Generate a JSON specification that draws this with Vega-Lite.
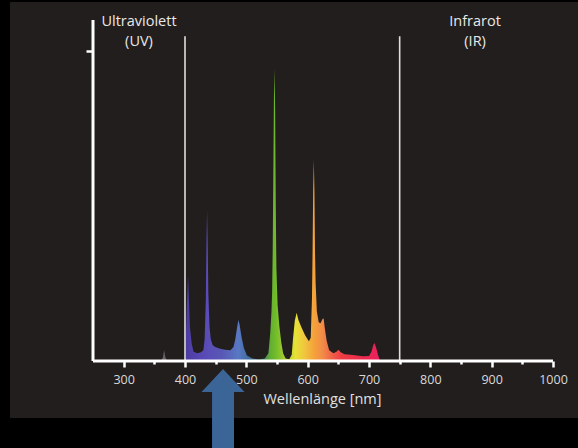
{
  "$schema": "https://vega.github.io/schema/vega-lite/v6.json",
  "width": 568,
  "height": 416,
  "autosize": {"type": "none"},
  "padding": {"left": 10, "top": 2, "right": 0, "bottom": 30},
  "background": "#000000",
  "config": {
    "view": {"fill": "#221e1d", "stroke": null},
    "font": "Open Sans",
    "axis": {"grid": false}
  },
  "datasets": {
    "uv": [
      {"nm": 361, "v": 0},
      {"nm": 364, "v": 0.012},
      {"nm": 366, "v": 0.035},
      {"nm": 368, "v": 0.012},
      {"nm": 371, "v": 0}
    ],
    "visible": [
      {"nm": 398, "v": 0},
      {"nm": 400, "v": 0.005},
      {"nm": 401, "v": 0.05},
      {"nm": 403, "v": 0.18},
      {"nm": 405, "v": 0.277},
      {"nm": 406, "v": 0.22},
      {"nm": 408, "v": 0.11},
      {"nm": 411, "v": 0.055},
      {"nm": 414, "v": 0.03},
      {"nm": 420, "v": 0.025},
      {"nm": 426, "v": 0.028},
      {"nm": 430, "v": 0.035},
      {"nm": 432, "v": 0.07},
      {"nm": 434, "v": 0.2},
      {"nm": 435, "v": 0.38},
      {"nm": 436, "v": 0.487},
      {"nm": 437, "v": 0.38},
      {"nm": 438, "v": 0.22},
      {"nm": 440, "v": 0.11},
      {"nm": 442, "v": 0.07},
      {"nm": 445, "v": 0.052},
      {"nm": 449, "v": 0.045},
      {"nm": 456, "v": 0.04},
      {"nm": 465, "v": 0.036},
      {"nm": 474, "v": 0.035},
      {"nm": 479, "v": 0.045},
      {"nm": 482, "v": 0.07},
      {"nm": 485, "v": 0.11},
      {"nm": 487, "v": 0.132},
      {"nm": 489, "v": 0.118},
      {"nm": 492, "v": 0.08},
      {"nm": 496, "v": 0.042},
      {"nm": 501, "v": 0.018},
      {"nm": 510, "v": 0.008},
      {"nm": 520, "v": 0.005},
      {"nm": 530, "v": 0.008},
      {"nm": 536, "v": 0.025},
      {"nm": 539, "v": 0.09},
      {"nm": 541, "v": 0.16},
      {"nm": 542, "v": 0.22},
      {"nm": 543, "v": 0.36},
      {"nm": 544, "v": 0.6},
      {"nm": 545, "v": 0.85},
      {"nm": 546, "v": 0.942},
      {"nm": 547, "v": 0.8},
      {"nm": 548, "v": 0.5},
      {"nm": 549, "v": 0.3},
      {"nm": 551, "v": 0.18},
      {"nm": 554, "v": 0.11},
      {"nm": 557, "v": 0.06},
      {"nm": 560, "v": 0.025},
      {"nm": 564, "v": 0.008},
      {"nm": 570, "v": 0.006},
      {"nm": 574, "v": 0.02},
      {"nm": 576, "v": 0.07},
      {"nm": 579, "v": 0.13},
      {"nm": 582, "v": 0.156},
      {"nm": 585, "v": 0.132},
      {"nm": 590, "v": 0.108},
      {"nm": 596, "v": 0.082},
      {"nm": 602, "v": 0.064},
      {"nm": 605, "v": 0.075},
      {"nm": 607, "v": 0.2},
      {"nm": 608, "v": 0.35},
      {"nm": 609, "v": 0.55},
      {"nm": 610, "v": 0.648},
      {"nm": 611, "v": 0.55},
      {"nm": 612, "v": 0.35},
      {"nm": 613, "v": 0.25},
      {"nm": 615, "v": 0.16},
      {"nm": 618, "v": 0.125},
      {"nm": 621, "v": 0.122},
      {"nm": 624, "v": 0.135},
      {"nm": 626, "v": 0.138},
      {"nm": 628, "v": 0.105},
      {"nm": 631, "v": 0.065},
      {"nm": 635, "v": 0.035},
      {"nm": 642, "v": 0.025},
      {"nm": 647, "v": 0.03},
      {"nm": 650, "v": 0.036},
      {"nm": 654, "v": 0.028},
      {"nm": 660, "v": 0.022},
      {"nm": 670, "v": 0.02},
      {"nm": 680, "v": 0.018},
      {"nm": 690, "v": 0.015},
      {"nm": 700, "v": 0.016},
      {"nm": 704, "v": 0.03},
      {"nm": 707, "v": 0.052},
      {"nm": 709, "v": 0.058},
      {"nm": 712, "v": 0.04},
      {"nm": 715, "v": 0.018},
      {"nm": 718, "v": 0}
    ],
    "bounds": [
      {"nm": 400, "v": 0, "v2": 1.048},
      {"nm": 750, "v": 0, "v2": 1.048}
    ],
    "labels": [
      {"nm": 325, "v": 1.094, "label": "Ultraviolett"},
      {"nm": 325, "v": 1.029, "label": "(UV)"},
      {"nm": 873, "v": 1.094, "label": "Infrarot"},
      {"nm": 873, "v": 1.029, "label": "(IR)"}
    ]
  },
  "encoding": {
    "x": {
      "field": "nm",
      "type": "quantitative",
      "scale": {"domain": [114.67, 1040.76], "nice": false, "zero": false},
      "axis": {
        "values": [300, 350, 400, 450, 500, 550, 600, 650, 700, 750, 800, 850, 900, 950, 1000],
        "labelExpr": "datum.value % 100 === 0 ? datum.label : ''",
        "format": "d",
        "offset": -57,
        "domain": false,
        "tickColor": "#ffffff",
        "tickWidth": 2.5,
        "tickSize": {"condition": {"test": "datum.value % 100 === 0", "value": 6}, "value": 3},
        "labelColor": "#d9d9d9",
        "labelFontSize": 12.5,
        "labelPadding": 6,
        "labelFlush": false,
        "labelOverlap": false,
        "title": "Wellenlänge [nm]",
        "titleColor": "#e0e0e0",
        "titleFontSize": 14.5,
        "titleFontWeight": "normal",
        "titleX": 312,
        "titleY": 38,
        "titleAlign": "center",
        "titleBaseline": "middle"
      }
    },
    "y": {
      "field": "v",
      "type": "quantitative",
      "scale": {"domain": [-0.1839, 1.1581], "nice": false, "zero": false},
      "axis": {
        "values": [1],
        "labels": false,
        "domain": false,
        "offset": -83,
        "tickColor": "#ffffff",
        "tickWidth": 2.5,
        "tickSize": 7,
        "title": null
      }
    }
  },
  "layer": [
    {
      "data": {"name": "uv"},
      "mark": {"type": "area", "color": "#6b6870", "opacity": 0.9}
    },
    {
      "data": {"name": "visible"},
      "mark": {
        "type": "area",
        "color": {
          "gradient": "linear",
          "x1": 0, "y1": 0, "x2": 1, "y2": 0,
          "stops": [
            {"offset": 0, "color": "#4a3a9c"},
            {"offset": 0.0375, "color": "#5040a8"},
            {"offset": 0.119, "color": "#5a4cb8"},
            {"offset": 0.194, "color": "#5858b4"},
            {"offset": 0.278, "color": "#5878c4"},
            {"offset": 0.334, "color": "#3f6c9c"},
            {"offset": 0.397, "color": "#3a7a6a"},
            {"offset": 0.444, "color": "#64b030"},
            {"offset": 0.469, "color": "#72bc2a"},
            {"offset": 0.522, "color": "#b0d030"},
            {"offset": 0.569, "color": "#e6e236"},
            {"offset": 0.616, "color": "#f0c63e"},
            {"offset": 0.663, "color": "#f5a23a"},
            {"offset": 0.709, "color": "#f28a48"},
            {"offset": 0.756, "color": "#f06048"},
            {"offset": 0.803, "color": "#f03c44"},
            {"offset": 0.913, "color": "#ec2a4c"},
            {"offset": 1, "color": "#e8205e"}
          ]
        }
      }
    },
    {
      "data": {"name": "bounds"},
      "mark": {"type": "rule", "color": "#dedede", "strokeWidth": 1.6},
      "encoding": {"y2": {"field": "v2"}}
    },
    {
      "data": {"values": [{"nm": 250, "nm2": 1000, "v": 0}]},
      "mark": {"type": "rule", "color": "#ffffff", "strokeWidth": 3},
      "encoding": {"x2": {"field": "nm2"}}
    },
    {
      "data": {"values": [{"nm": 250, "v": 0, "v2": 1.1}]},
      "mark": {"type": "rule", "color": "#ffffff", "strokeWidth": 3},
      "encoding": {"y2": {"field": "v2"}}
    },
    {
      "data": {"name": "labels"},
      "mark": {"type": "text", "color": "#e8e8e8", "fontSize": 14.5, "baseline": "middle", "align": "center"},
      "encoding": {"text": {"field": "label"}}
    },
    {
      "data": {"values": [{"nm": 462, "v": -0.153}]},
      "mark": {
        "type": "point",
        "filled": true,
        "opacity": 1,
        "color": "#3b6597",
        "size": 6241,
        "strokeWidth": 0,
        "shape": "M0,-1 L0.544,-0.418 L0.278,-0.418 L0.278,1 L-0.278,1 L-0.278,-0.418 L-0.544,-0.418 Z"
      }
    }
  ]
}
